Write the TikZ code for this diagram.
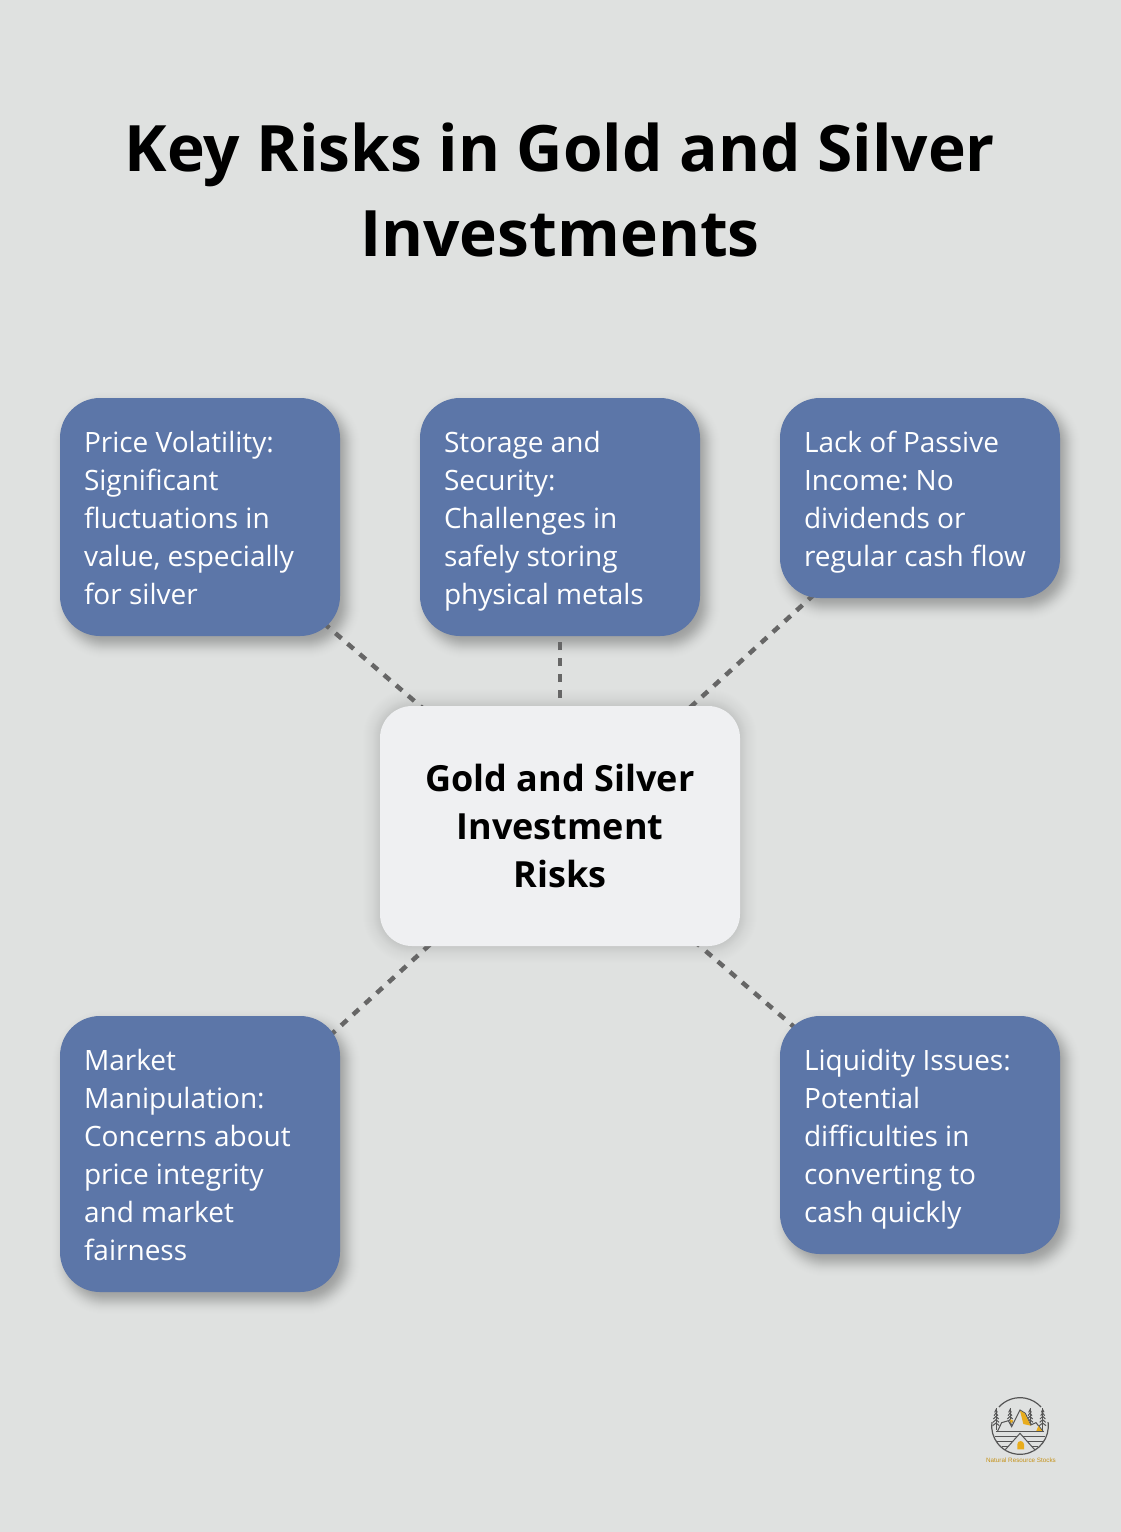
\documentclass[tikz,border=0pt]{standalone}
\usepackage{fontspec}
\setmainfont{Open Sans}
\newfontfamily\logofont{Liberation Sans}
\frenchspacing
\usepackage{tikz}
\usetikzlibrary{backgrounds}

\definecolor{pagegray}{HTML}{DFE1E0}
\definecolor{riskblue}{HTML}{5C76A8}
\definecolor{centerwhite}{HTML}{EFF0F2}
\definecolor{linkgray}{HTML}{666666}
\definecolor{logogray}{HTML}{555555}
\definecolor{logogold}{HTML}{E8AC1C}

\newcommand{\linestrut}{\rule[-.21\baselineskip]{0pt}{\baselineskip}}

\tikzset{
	struts/.style={execute at begin node={\spaceskip=.26em\relax\linestrut},execute at end node=\linestrut},
	riskbox/.style={struts,fill=riskblue,text=white,rounded corners=40pt,minimum width=280pt,
		text width=232pt,inner xsep=24pt,inner ysep=0pt,align=left,font=\fontsize{28}{38}\selectfont},
	centerbox/.style={struts,fill=centerwhite,text=black,rounded corners=32pt,minimum width=360pt,minimum height=240pt,
		text width=300pt,inner ysep=0pt,align=center,font=\bfseries\fontsize{36}{48}\selectfont},
	titletext/.style={struts,text=black,text width=1000pt,align=center,font=\bfseries\fontsize{64}{85}\selectfont},
	risklink/.style={draw=linkgray,line width=4.5pt,dash pattern=on 8pt off 8pt},
	logoline/.style={draw=logogray,line width=1pt},
	logogoldfill/.style={fill=logogold,draw=none}
}

\newcommand{\softshadow}[6]{
	\pgfmathtruncatemacro{\nextstep}{1-#6}
	\foreach \e in {-#6,\nextstep,...,#6} {
		\pgfmathsetmacro{\rad}{max(#2+\e,0)}
		\pgfmathsetmacro{\layerop}{#5*exp(-(\e*\e)/(#6*#6/4))}
		\fill[black,opacity=\layerop,rounded corners=\rad pt]
			([shift={(#3-\e,#4-\e)}]#1.north west) rectangle ([shift={(#3+\e,#4+\e)}]#1.south east);
	}
}

\newcommand{\logotree}[1]{
	\draw[logoline] (#1,85) -- (#1,150);
	\foreach \v/\w in {92/4,102/6,112/8,122/9,132/10} {
		\draw[logoline] (#1-\w,\v+5) -- (#1,\v-3) -- (#1+\w,\v+5);
	}
}

\begin{document}
\begin{tikzpicture}[x=1pt,y=-1pt]
	\useasboundingbox (0,0) rectangle (1120,1532);

	\node[titletext] (title) at (560,189) {Key Risks in Gold and Silver\\Investments};

	\node[riskbox,minimum height=238pt] (price) at (200,517)
		{Price Volatility:\\Significant\\fluctuations in\\value, especially\\for silver};
	\node[riskbox,minimum height=238pt] (storage) at (560,517)
		{Storage and\\Security:\\Challenges in\\safely storing\\physical metals};
	\node[riskbox,minimum height=200pt] (income) at (920,498)
		{Lack of Passive\\Income: No\\dividends or\\regular cash flow};
	\node[centerbox] (center) at (560,826) {Gold and Silver\\Investment\\Risks};
	\node[riskbox,minimum height=276pt] (manipulation) at (200,1154)
		{Market\\Manipulation:\\Concerns about\\price integrity\\and market\\fairness};
	\node[riskbox,minimum height=238pt] (liquidity) at (920,1135)
		{Liquidity Issues:\\Potential\\difficulties in\\converting to\\cash quickly};

	\begin{scope}[on background layer]
		\fill[pagegray] (-3,-3) rectangle (1123,1535);
		\softshadow{center}{32}{0}{0}{0.0075}{30}
		\softshadow{price}{40}{6}{8}{0.017}{20}
		\softshadow{storage}{40}{6}{8}{0.017}{20}
		\softshadow{income}{40}{6}{8}{0.017}{20}
		\softshadow{manipulation}{40}{6}{8}{0.017}{20}
		\softshadow{liquidity}{40}{6}{8}{0.017}{20}
		\foreach \target in {price,storage,income,manipulation,liquidity} {
			\draw[risklink] (center.center) -- (\target.center);
		}
	\end{scope}

	\begin{scope}[shift={(960,1380)},x=0.3333pt,y=-0.3333pt]
		\draw[logoline,line width=1.2pt] (180,138) ++(222:85) arc[start angle=222,end angle=318,radius=85];
		\draw[logoline,line width=1.2pt] (180,138) ++(-8:85) arc[start angle=-8,end angle=188,radius=85];
		\logotree{108}
		\logotree{150}
		\logotree{210}
		\logotree{248}
		\draw[logoline,fill=pagegray] (112,155) -- (125,128) -- (145,122) -- (155,140) -- (180,90) -- (196,100) -- (212,135) -- (228,128) -- (250,155);
		\fill[logogoldfill] (180,92) -- (194,100) -- (212,137) -- (190,132) -- cycle;
		\fill[logogoldfill] (150,118) -- (160,122) -- (152,130) -- cycle;
		\fill[logogoldfill] (235,138) -- (248,155) -- (228,155) -- cycle;
		\foreach \v/\w in {155/72,170/76,185/70,200/55} {
			\draw[logoline] (180-\w,\v) -- (180+\w,\v);
		}
		\draw[logoline,fill=pagegray] (135,210) -- (180,160) -- (225,210);
		\fill[logogoldfill] (172,208) -- (172,193) arc[start angle=180,end angle=360,radius=10] -- (192,208) -- cycle;
	\end{scope}
	\node[text=logogold!85!black,inner sep=0pt,font=\logofont\fontsize{6.3}{8}\selectfont] (logotext) at (1021,1460) {Natural Resource Stocks};
\end{tikzpicture}
\end{document}
